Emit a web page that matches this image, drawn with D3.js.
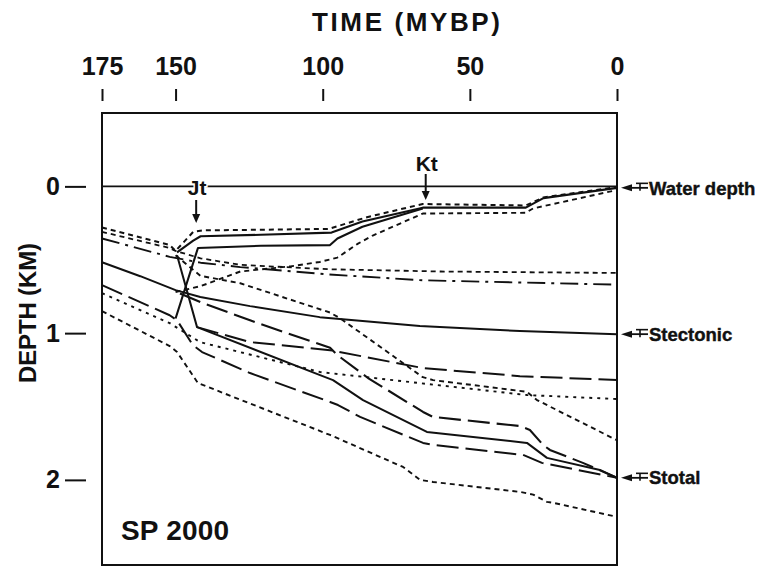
<!DOCTYPE html>
<html>
<head>
<meta charset="utf-8">
<script src="https://cdn.jsdelivr.net/npm/d3@7"></script>
<style>
  html, body { margin: 0; padding: 0; background: #fff; }
  svg { display: block; }
  text { font-family: "Liberation Sans", Arial, Helvetica, sans-serif; font-weight: bold; fill: #111; }
</style>
</head>
<body>
<svg id="chart" width="761" height="573"></svg>
<script>
// Axis ticks: age in millions of years before present, depth in km
const timeTicks = [175, 150, 100, 50, 0];
const depthTicks = [0, 1, 2];

// Each curve is a list of [age (Ma), depth (km)] points
const seaLevel = [[175, 0], [0, 0]];
const waterDepthShallow = [[175, 0.28], [152, 0.40], [150, 0.44], [144, 0.31], [141, 0.30], [98, 0.29], [85, 0.21], [66, 0.12], [31, 0.13], [25, 0.075], [0, 0.005]];
const waterDepth = [[149.5, 0.45], [144, 0.37], [141.5, 0.34], [121, 0.33], [97, 0.315], [86.5, 0.24], [66, 0.145], [31, 0.145], [25, 0.08], [0, 0.01]];
const waterDepthDeep = [[150, 0.72], [141.5, 0.68], [128, 0.58], [111, 0.545], [101, 0.515], [95, 0.485], [88, 0.39], [83, 0.335], [66, 0.185], [31, 0.18], [28.5, 0.15], [0, 0.025]];
const jurassicRise = [[150, 0.90], [142.4, 0.42], [121, 0.405], [97.5, 0.40], [95, 0.355], [86.5, 0.275], [66, 0.15]];
const upperDotted = [[175, 0.31], [152, 0.42], [150, 0.44], [141.5, 0.49], [128, 0.535], [97.5, 0.565], [60, 0.58], [0, 0.59]];
const upperDashDot = [[175, 0.355], [152, 0.48], [141.5, 0.52], [128, 0.55], [98, 0.60], [66, 0.64], [0, 0.67]];
const sTectonic = [[175, 0.517], [162, 0.612], [150, 0.707], [141.6, 0.754], [124.7, 0.816], [101, 0.891], [67, 0.952], [33, 0.986], [0, 1.007]];
const sTectonicDeep = [[142.7, 0.959], [124.7, 1.061], [97.5, 1.116], [66, 1.238], [33, 1.293], [0, 1.32]];
const crossingDashed = [[150, 0.47], [141.5, 0.61], [128, 0.66], [97.5, 0.86], [94, 0.90], [66, 1.30], [62.5, 1.32], [30.6, 1.40], [27.2, 1.456], [0, 1.73]];
const middleDotted = [[175, 0.728], [152, 0.932], [141.7, 1.061], [100.9, 1.265], [30.6, 1.422], [0, 1.449]];
const sTotalShallow = [[148.5, 0.73], [140.7, 0.796], [124.7, 0.912], [122, 0.932], [97.5, 1.10], [95, 1.15], [87.3, 1.265], [84.6, 1.306], [65.9, 1.537], [62.5, 1.571], [33, 1.633], [29.6, 1.66], [25.1, 1.762], [22.8, 1.796], [11.6, 1.884], [0, 1.986]];
const sTotal = [[149.5, 0.469], [142.7, 0.959], [100.9, 1.286], [96.5, 1.32], [86.3, 1.456], [64.6, 1.673], [30.6, 1.748], [23.8, 1.85], [5.8, 1.932], [0, 1.986]];
const sTotalDeep = [[175, 0.673], [152, 0.878], [149.5, 0.912], [144.1, 1.082], [141, 1.129], [124.7, 1.272], [97.5, 1.469], [94.8, 1.49], [87.3, 1.571], [65.9, 1.748], [62.5, 1.762], [31.9, 1.83], [25.5, 1.884], [0, 1.986]];
const lowestDotted = [[175, 0.85], [152, 1.088], [149.5, 1.129], [142.4, 1.34], [97.5, 1.694], [72.7, 1.912], [66.9, 2.0], [62.5, 2.014], [33, 2.082], [28.5, 2.10], [23.8, 2.15], [21.7, 2.156], [0, 2.252]];

// Stratigraphic markers and curve labels
const markers = [{ label: "Jt", age: 143 }, { label: "Kt", age: 65 }];
const curveLabels = [
  { label: "Water depth", curve: waterDepth },
  { label: "Stectonic", curve: sTectonic },
  { label: "Stotal", curve: sTotal }
];

// Line styles
const styles = {
  solid: null,
  shortDash: "5,4",
  fineDot: "3,5",
  longDash: "22,7",
  dashDot: "18,6,3,6"
};
const curves = [
  { data: seaLevel, dash: "solid", w: 1.6 },
  { data: waterDepthShallow, dash: "shortDash", w: 2 },
  { data: waterDepth, dash: "solid", w: 2.1 },
  { data: waterDepthDeep, dash: "shortDash", w: 1.9 },
  { data: jurassicRise, dash: "solid", w: 2.1 },
  { data: upperDotted, dash: "shortDash", w: 1.8 },
  { data: upperDashDot, dash: "dashDot", w: 1.9 },
  { data: sTectonic, dash: "solid", w: 2 },
  { data: sTectonicDeep, dash: "longDash", w: 2 },
  { data: crossingDashed, dash: "shortDash", w: 1.9 },
  { data: middleDotted, dash: "fineDot", w: 1.9 },
  { data: sTotalShallow, dash: "longDash", w: 2.1 },
  { data: sTotal, dash: "solid", w: 2 },
  { data: sTotalDeep, dash: "longDash", w: 2 },
  { data: lowestDotted, dash: "shortDash", w: 1.9 }
];

const svg = d3.select("#chart");
const ink = "#111";

const x = d3.scaleLinear().domain([175, 0]).range([102, 617]);
const y = d3.scaleLinear().domain([-0.5, 2.58]).range([113, 565]);

// Plot frame
svg.append("rect")
  .attr("x", x(175)).attr("y", y(-0.5))
  .attr("width", x(0) - x(175)).attr("height", y(2.58) - y(-0.5))
  .attr("fill", "none").attr("stroke", ink).attr("stroke-width", 2);

// Top time axis, detached from the frame
const topAxis = svg.append("g")
  .attr("transform", "translate(0,101)")
  .call(d3.axisTop(x).tickValues(timeTicks).tickSize(12).tickPadding(14).tickFormat(d3.format("d")));
topAxis.select(".domain").remove();
topAxis.selectAll(".tick line").attr("stroke", ink).attr("stroke-width", 2);
topAxis.selectAll(".tick text").attr("font-size", 25).attr("fill", ink)
  .style("font-family", "'Liberation Sans', Arial, sans-serif").style("font-weight", "bold");

svg.append("text")
  .attr("x", 406).attr("y", 31)
  .attr("text-anchor", "middle")
  .attr("font-size", 26)
  .attr("textLength", 188).attr("lengthAdjust", "spacing")
  .text("TIME (MYBP)");

// Left depth axis
const leftAxis = svg.append("g")
  .attr("transform", "translate(86,0)")
  .call(d3.axisLeft(y).tickValues(depthTicks).tickSize(21).tickPadding(5).tickFormat(d3.format("d")));
leftAxis.select(".domain").remove();
leftAxis.selectAll(".tick line").attr("stroke", ink).attr("stroke-width", 2);
leftAxis.selectAll(".tick text").attr("font-size", 25).attr("fill", ink)
  .style("font-family", "'Liberation Sans', Arial, sans-serif").style("font-weight", "bold");

svg.append("text")
  .attr("transform", "translate(36,313) rotate(-90)")
  .attr("text-anchor", "middle")
  .attr("font-size", 24)
  .attr("textLength", 140).attr("lengthAdjust", "spacing")
  .text("DEPTH (KM)");

// Subsidence and water-depth curves
const line = d3.line().x(d => x(d[0])).y(d => y(d[1]));
const plot = svg.append("g");
curves.forEach(c => {
  plot.append("path")
    .attr("d", line(c.data))
    .attr("fill", "none")
    .attr("stroke", ink)
    .attr("stroke-width", c.w)
    .attr("stroke-linejoin", "round")
    .attr("stroke-dasharray", styles[c.dash]);
});

// Horizon markers with downward arrows
markers.forEach((m, i) => {
  const mx = x(m.age);
  const top = i === 0 ? 200 : 174;
  const tip = i === 0 ? 223 : 200;
  svg.append("text")
    .attr("x", mx + 1).attr("y", i === 0 ? 195 : 171)
    .attr("text-anchor", "middle")
    .attr("font-size", 21)
    .attr("stroke", "#fff").attr("stroke-width", 3).attr("paint-order", "stroke")
    .text(m.label);
  svg.append("line")
    .attr("x1", mx).attr("x2", mx).attr("y1", top).attr("y2", tip - 6)
    .attr("stroke", ink).attr("stroke-width", 2);
  svg.append("path")
    .attr("d", `M${mx - 4},${tip - 9}L${mx + 4},${tip - 9}L${mx},${tip}Z`)
    .attr("fill", ink);
});

// Curve labels at the right edge, each with a pointer arrow
curveLabels.forEach(c => {
  const yv = y(c.curve[c.curve.length - 1][1]);
  const g = svg.append("g");
  g.append("line").attr("x1", 628).attr("x2", 648).attr("y1", yv).attr("y2", yv)
    .attr("stroke", ink).attr("stroke-width", 1.8);
  g.append("path").attr("d", `M621,${yv}L632,${yv - 3.5}L632,${yv + 3.5}Z`).attr("fill", ink);
  g.append("line").attr("x1", 636).attr("x2", 648).attr("y1", yv - 4.5).attr("y2", yv - 4.5)
    .attr("stroke", ink).attr("stroke-width", 1.6);
  g.append("line").attr("x1", 640).attr("x2", 640).attr("y1", yv - 4.5).attr("y2", yv + 3)
    .attr("stroke", ink).attr("stroke-width", 1.6);
  g.append("text")
    .attr("x", 649).attr("y", yv)
    .attr("dy", "0.36em")
    .attr("font-size", 18.5)
    .attr("stroke", ink).attr("stroke-width", 0.4)
    .text(c.label);
});

// Section name
svg.append("text")
  .attr("x", 121).attr("y", 540)
  .attr("font-size", 28)
  .attr("textLength", 108).attr("lengthAdjust", "spacing")
  .text("SP 2000");
</script>
</body>
</html>
